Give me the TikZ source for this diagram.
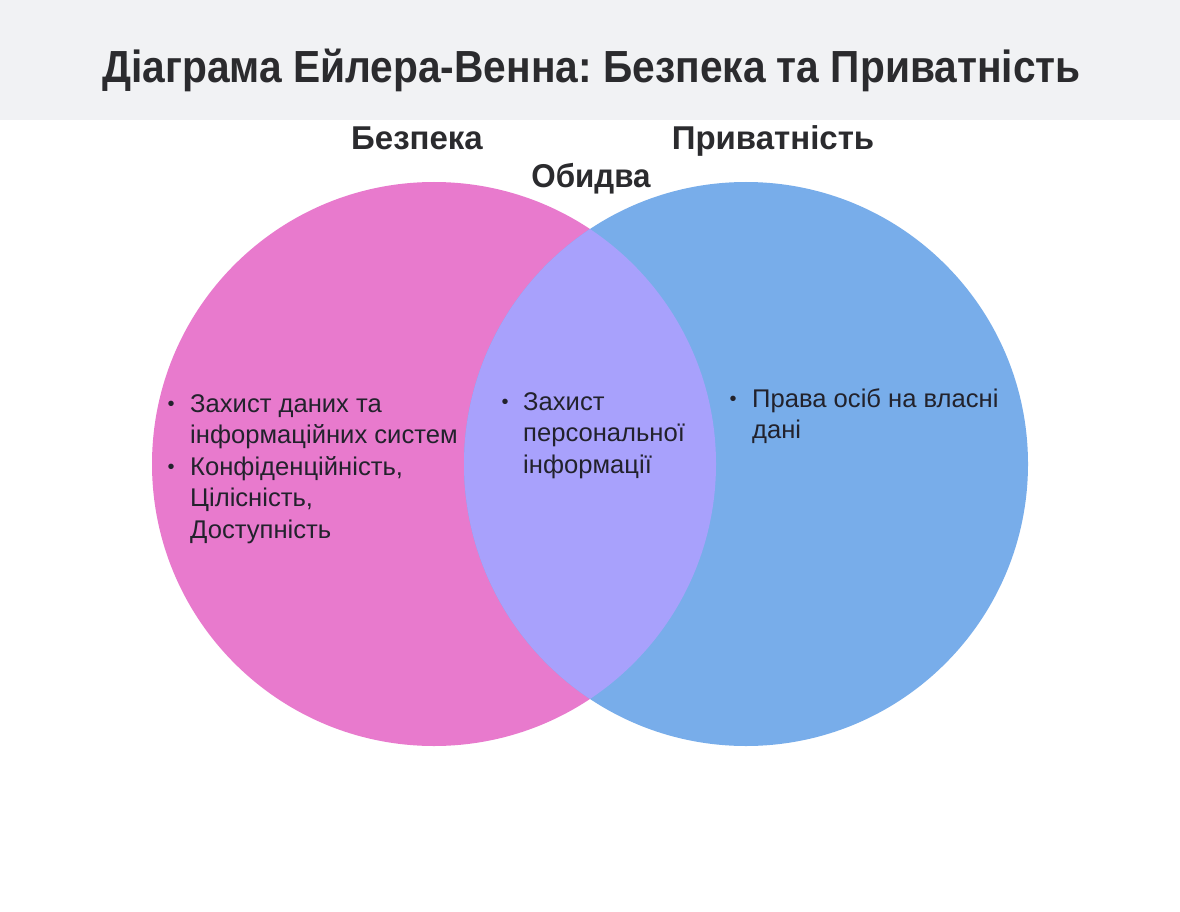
\documentclass[tikz,border=0pt]{standalone}
\usepackage{fontspec}
\setmainfont{Liberation Sans}
\frenchspacing
\definecolor{titlebg}{HTML}{F1F2F4}
\definecolor{titletxt}{HTML}{2B2B2E}
\definecolor{secpink}{HTML}{E87ACD}
\definecolor{privblue}{HTML}{78ADEA}
\definecolor{bothlav}{HTML}{A8A1FC}
\definecolor{bodytxt}{HTML}{22222C}
\tikzset{
  titletext/.style={font=\fontsize{45}{50}\selectfont\bfseries, text=titletxt, inner sep=0pt, anchor=base},
  settitle/.style={font=\fontsize{33}{36}\selectfont\bfseries, text=titletxt, inner sep=0pt, anchor=base},
  bodyline/.style={font=\fontsize{25.6}{28}\selectfont, text=bodytxt, inner sep=0pt, anchor=base west},
  bul/.style={font=\fontsize{20}{22}\selectfont, text=bodytxt, inner sep=0pt, anchor=base},
  setcircle/.style={circle, inner sep=0pt, minimum size=564pt, draw=none}
}
\begin{document}
\begin{tikzpicture}[x=1pt,y=-1pt]
\useasboundingbox (0,0) rectangle (1180,912);
\fill[white] (0,0) rectangle (1180,912);
\fill[titlebg] (0,0) rectangle (1180,120);
\node[titletext] (title) at (591.5,83) {\scalebox{0.905}[1]{Діаграма Ейлера-Венна: Безпека та Приватність}};

\node[setcircle, fill=secpink] (sec) at (434,464) {};
\node[setcircle, fill=privblue] (priv) at (746,464) {};
\begin{scope}
  \clip (434,464) circle (282pt);
  \fill[bothlav] (746,464) circle (282pt);
\end{scope}

\node[settitle] (lsec) at (417,150) {Безпека};
\node[settitle] (lpriv) at (773,150) {Приватність};
\node[settitle] (lboth) at (591,188) {\scalebox{0.95}[1]{Обидва}};

% left
\node[bul] (b1) at (171,410) {•};
\node[bodyline] (l1) at (190,412) {Захист даних та};
\node[bodyline] (l2) at (190,443.5) {інформаційних систем};
\node[bul] (b2) at (171,473) {•};
\node[bodyline] (l3) at (190,475) {Конфіденційність,};
\node[bodyline] (l4) at (190,506.5) {Цілісність,};
\node[bodyline] (l5) at (190,538) {Доступність};

% middle
\node[bul] (b3) at (505,408) {•};
\node[bodyline] (m1) at (523,410) {Захист};
\node[bodyline] (m2) at (523,441.5) {персональної};
\node[bodyline] (m3) at (523,473) {інформації};

% right
\node[bul] (b4) at (733,405) {•};
\node[bodyline] (r1) at (752,407) {Права осіб на власні};
\node[bodyline] (r2) at (752,438.5) {дані};
\end{tikzpicture}
\end{document}
